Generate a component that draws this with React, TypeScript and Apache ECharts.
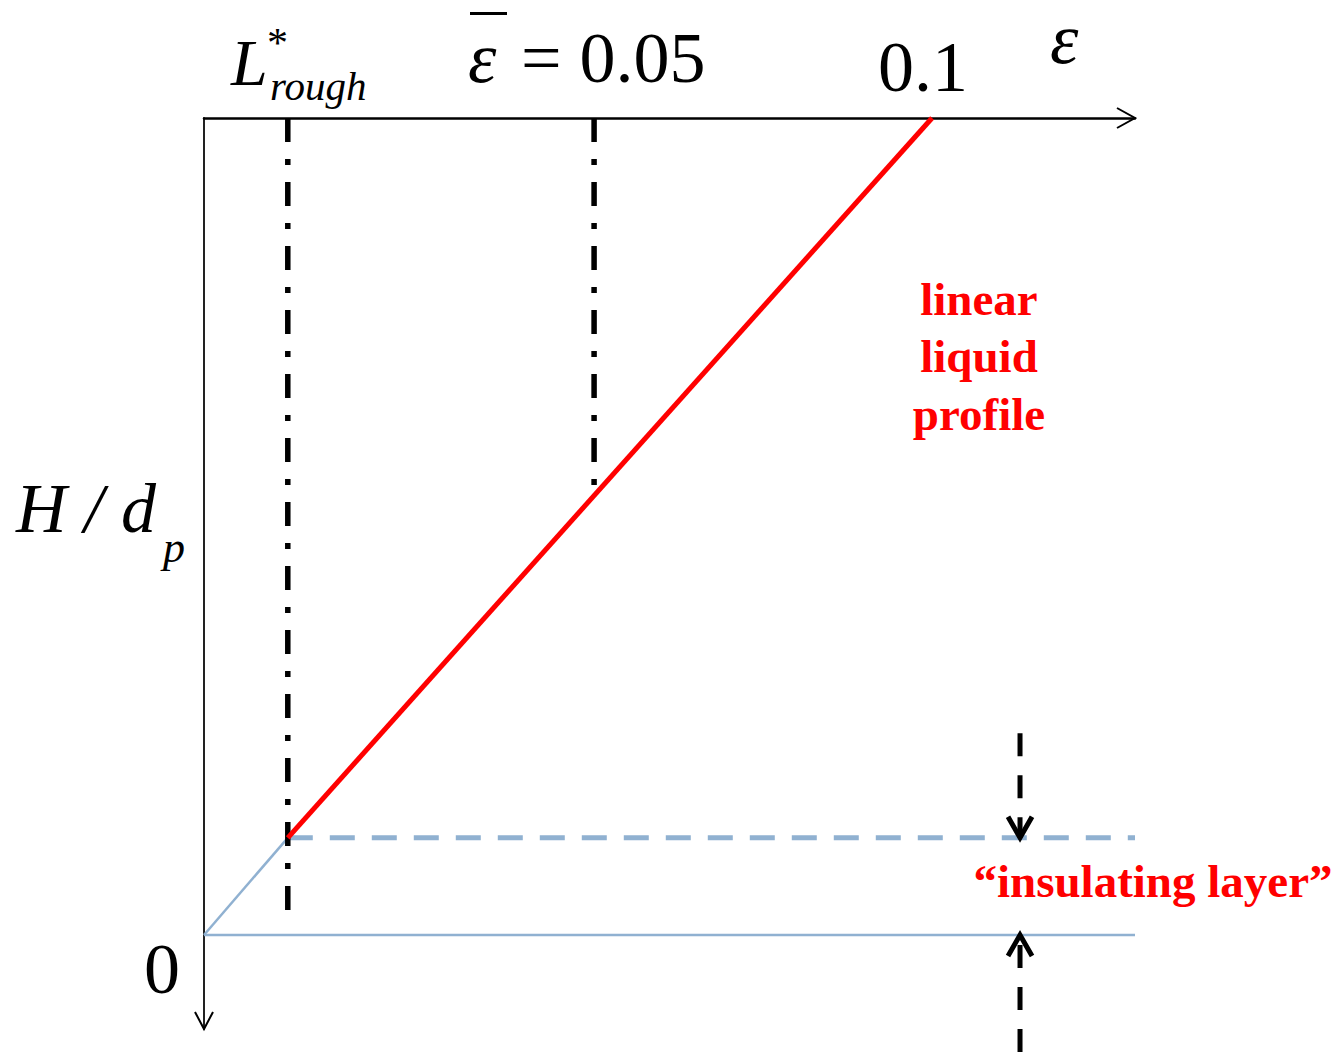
import React, { useEffect, useRef } from "react";
import * as echarts from "echarts";

// Schematic (not-to-scale) positions in normalised axis units
const X_RANGE = [0, 1];
const Y_RANGE = [-0.115, 1.0];
const X_TICK_POS = [0.09, 0.419, 0.782]; // L*rough, ε̄ = 0.05, 0.1
const LAYER_TOP = 0.119; // top of "insulating layer"
const PROFILE_X = [0.09, 0.782];
const PROFILE_Y = [0.119, 1.0];
const EPS_BAR_END_Y = 0.538;
const LROUGH_END_Y = 0.012;
const ARROW_X = 0.8765;
const UPPER_ARROW_Y = [0.247, 0.119];
const LOWER_ARROW_Y = [-0.143, 0.0];

const SERIF = '"Liberation Serif"';
const BLUE = "#90B1D1";
const RED = "#FF0000";

function lineSeries(data: number[][], color: string, width: number, type: any, z = 2) {
  return {
    type: "line",
    data,
    symbol: "none",
    showSymbol: false,
    clip: false,
    silent: true,
    z,
    lineStyle: { color, width, type, cap: "butt" },
  };
}

export default function App() {
  const ref = useRef<HTMLDivElement>(null);
  useEffect(() => {
    if (!ref.current) return;
    const chart = echarts.init(ref.current, null, { renderer: "svg" });
    chart.setOption({
      animation: false,
      backgroundColor: "#ffffff",
      grid: { left: 204, top: 118, width: 931, height: 911 },
      xAxis: {
        type: "value",
        min: X_RANGE[0],
        max: X_RANGE[1],
        position: "top",
        axisLine: { show: true, onZero: false, lineStyle: { color: "#000", width: 2.5 } },
        axisTick: { show: false },
        axisLabel: { show: false },
        splitLine: { show: false },
      },
      yAxis: {
        type: "value",
        min: Y_RANGE[0],
        max: Y_RANGE[1],
        position: "left",
        axisLine: { show: true, onZero: false, lineStyle: { color: "#222", width: 2 } },
        axisTick: { show: false },
        axisLabel: { show: false },
        splitLine: { show: false },
      },
      series: [
        lineSeries([[X_RANGE[0], 0], [X_RANGE[1], 0]], BLUE, 2.5, "solid", 2),
        lineSeries([[X_RANGE[0], 0], [X_TICK_POS[0], LAYER_TOP]], BLUE, 2.5, "solid", 2),
        lineSeries([[X_TICK_POS[0], LAYER_TOP], [X_RANGE[1], LAYER_TOP]], BLUE, 5, [25, 17], 2),
        lineSeries([[X_TICK_POS[0], Y_RANGE[1]], [X_TICK_POS[0], LROUGH_END_Y]], "#000", 5.5, [24, 17, 6, 17], 3),
        lineSeries([[X_TICK_POS[1], Y_RANGE[1]], [X_TICK_POS[1], EPS_BAR_END_Y]], "#000", 5.5, [24, 17, 6, 17], 3),
        lineSeries([[PROFILE_X[0], PROFILE_Y[0]], [PROFILE_X[1], PROFILE_Y[1]]], RED, 5, "solid", 4),
        lineSeries([[ARROW_X, UPPER_ARROW_Y[0]], [ARROW_X, UPPER_ARROW_Y[1]]], "#000", 5, [23, 19], 3),
        lineSeries([[ARROW_X, LOWER_ARROW_Y[0]], [ARROW_X, LOWER_ARROW_Y[1]]], "#000", 5, [23, 19], 3),
      ],
    });

    const P = (x: number, y: number) => chart.convertToPixel({ gridIndex: 0 } as any, [x, y]) as number[];
    const bl = (baseline: number, fs: number) => baseline - 0.34 * fs;
    const txt = (text: string, x: number, baseline: number, fs: number, opts: any = {}) => ({
      type: "text",
      silent: true,
      z: 10,
      style: {
        text,
        x,
        y: bl(baseline, fs),
        fontFamily: SERIF,
        fontSize: fs,
        fontStyle: opts.style || "normal",
        fontWeight: opts.weight || "normal",
        fill: opts.fill || "#000",
        textAlign: opts.align || "left",
        textVerticalAlign: "middle",
      },
    });
    const chevron = (pts: number[][], w: number) => ({
      type: "polyline",
      silent: true,
      z: 10,
      shape: { points: pts },
      style: { stroke: "#000", lineWidth: w, fill: null, lineJoin: "miter", lineCap: "butt" },
    });

    const xEnd = P(X_RANGE[1], Y_RANGE[1]);
    const yEnd = P(X_RANGE[0], Y_RANGE[0]);
    const upTip = P(ARROW_X, UPPER_ARROW_Y[1]);
    const lowTip = P(ARROW_X, LOWER_ARROW_Y[1]);
    const tick01 = P(X_TICK_POS[2], Y_RANGE[1]);

    chart.setOption({
      graphic: [
        chevron([[xEnd[0] - 18, xEnd[1] - 10], [xEnd[0], xEnd[1]], [xEnd[0] - 18, xEnd[1] + 10]], 2),
        chevron([[yEnd[0] - 9, yEnd[1] - 17], [yEnd[0], yEnd[1]], [yEnd[0] + 9, yEnd[1] - 17]], 2),
        chevron([[upTip[0] - 12, upTip[1] - 21], [upTip[0], upTip[1]], [upTip[0] + 12, upTip[1] - 21]], 5),
        chevron([[lowTip[0] - 12, lowTip[1] + 21], [lowTip[0], lowTip[1]], [lowTip[0] + 12, lowTip[1] + 21]], 5),
        // x tick labels
        txt("0.1", tick01[0] - 9, 91, 72, { align: "center" }),
        txt("ε", 468, 82, 72, { style: "italic" }),
        txt("= 0.05", 521, 82, 72),
        {
          type: "line",
          silent: true,
          z: 10,
          shape: { x1: 470, y1: 13.5, x2: 507, y2: 13.5 },
          style: { stroke: "#000", lineWidth: 3 },
        },
        txt("L", 231, 85, 66, { style: "italic" }),
        txt("*", 267, 57, 42),
        txt("rough", 270, 100, 41, { style: "italic" }),
        // axis names
        txt("ε", 1050, 63, 72, { style: "italic" }),
        txt("H / d", 16, 532, 70, { style: "italic" }),
        txt("p", 163, 562, 44, { style: "italic" }),
        txt("0", 162, 993, 72, { align: "center" }),
        // annotations
        txt("linear", 979, 315, 47, { weight: "bold", fill: RED, align: "center" }),
        txt("liquid", 979, 372, 47, { weight: "bold", fill: RED, align: "center" }),
        txt("profile", 979, 430, 47, { weight: "bold", fill: RED, align: "center" }),
        txt("\u201Cinsulating layer\u201D", 1153, 897, 47, { weight: "bold", fill: RED, align: "center" }),
      ],
    });

    return () => chart.dispose();
  }, []);

  return (
    <div
      ref={ref}
      style={{ position: "absolute", left: 0, top: 0, width: 1340, height: 1052, background: "#fff" }}
    />
  );
}
